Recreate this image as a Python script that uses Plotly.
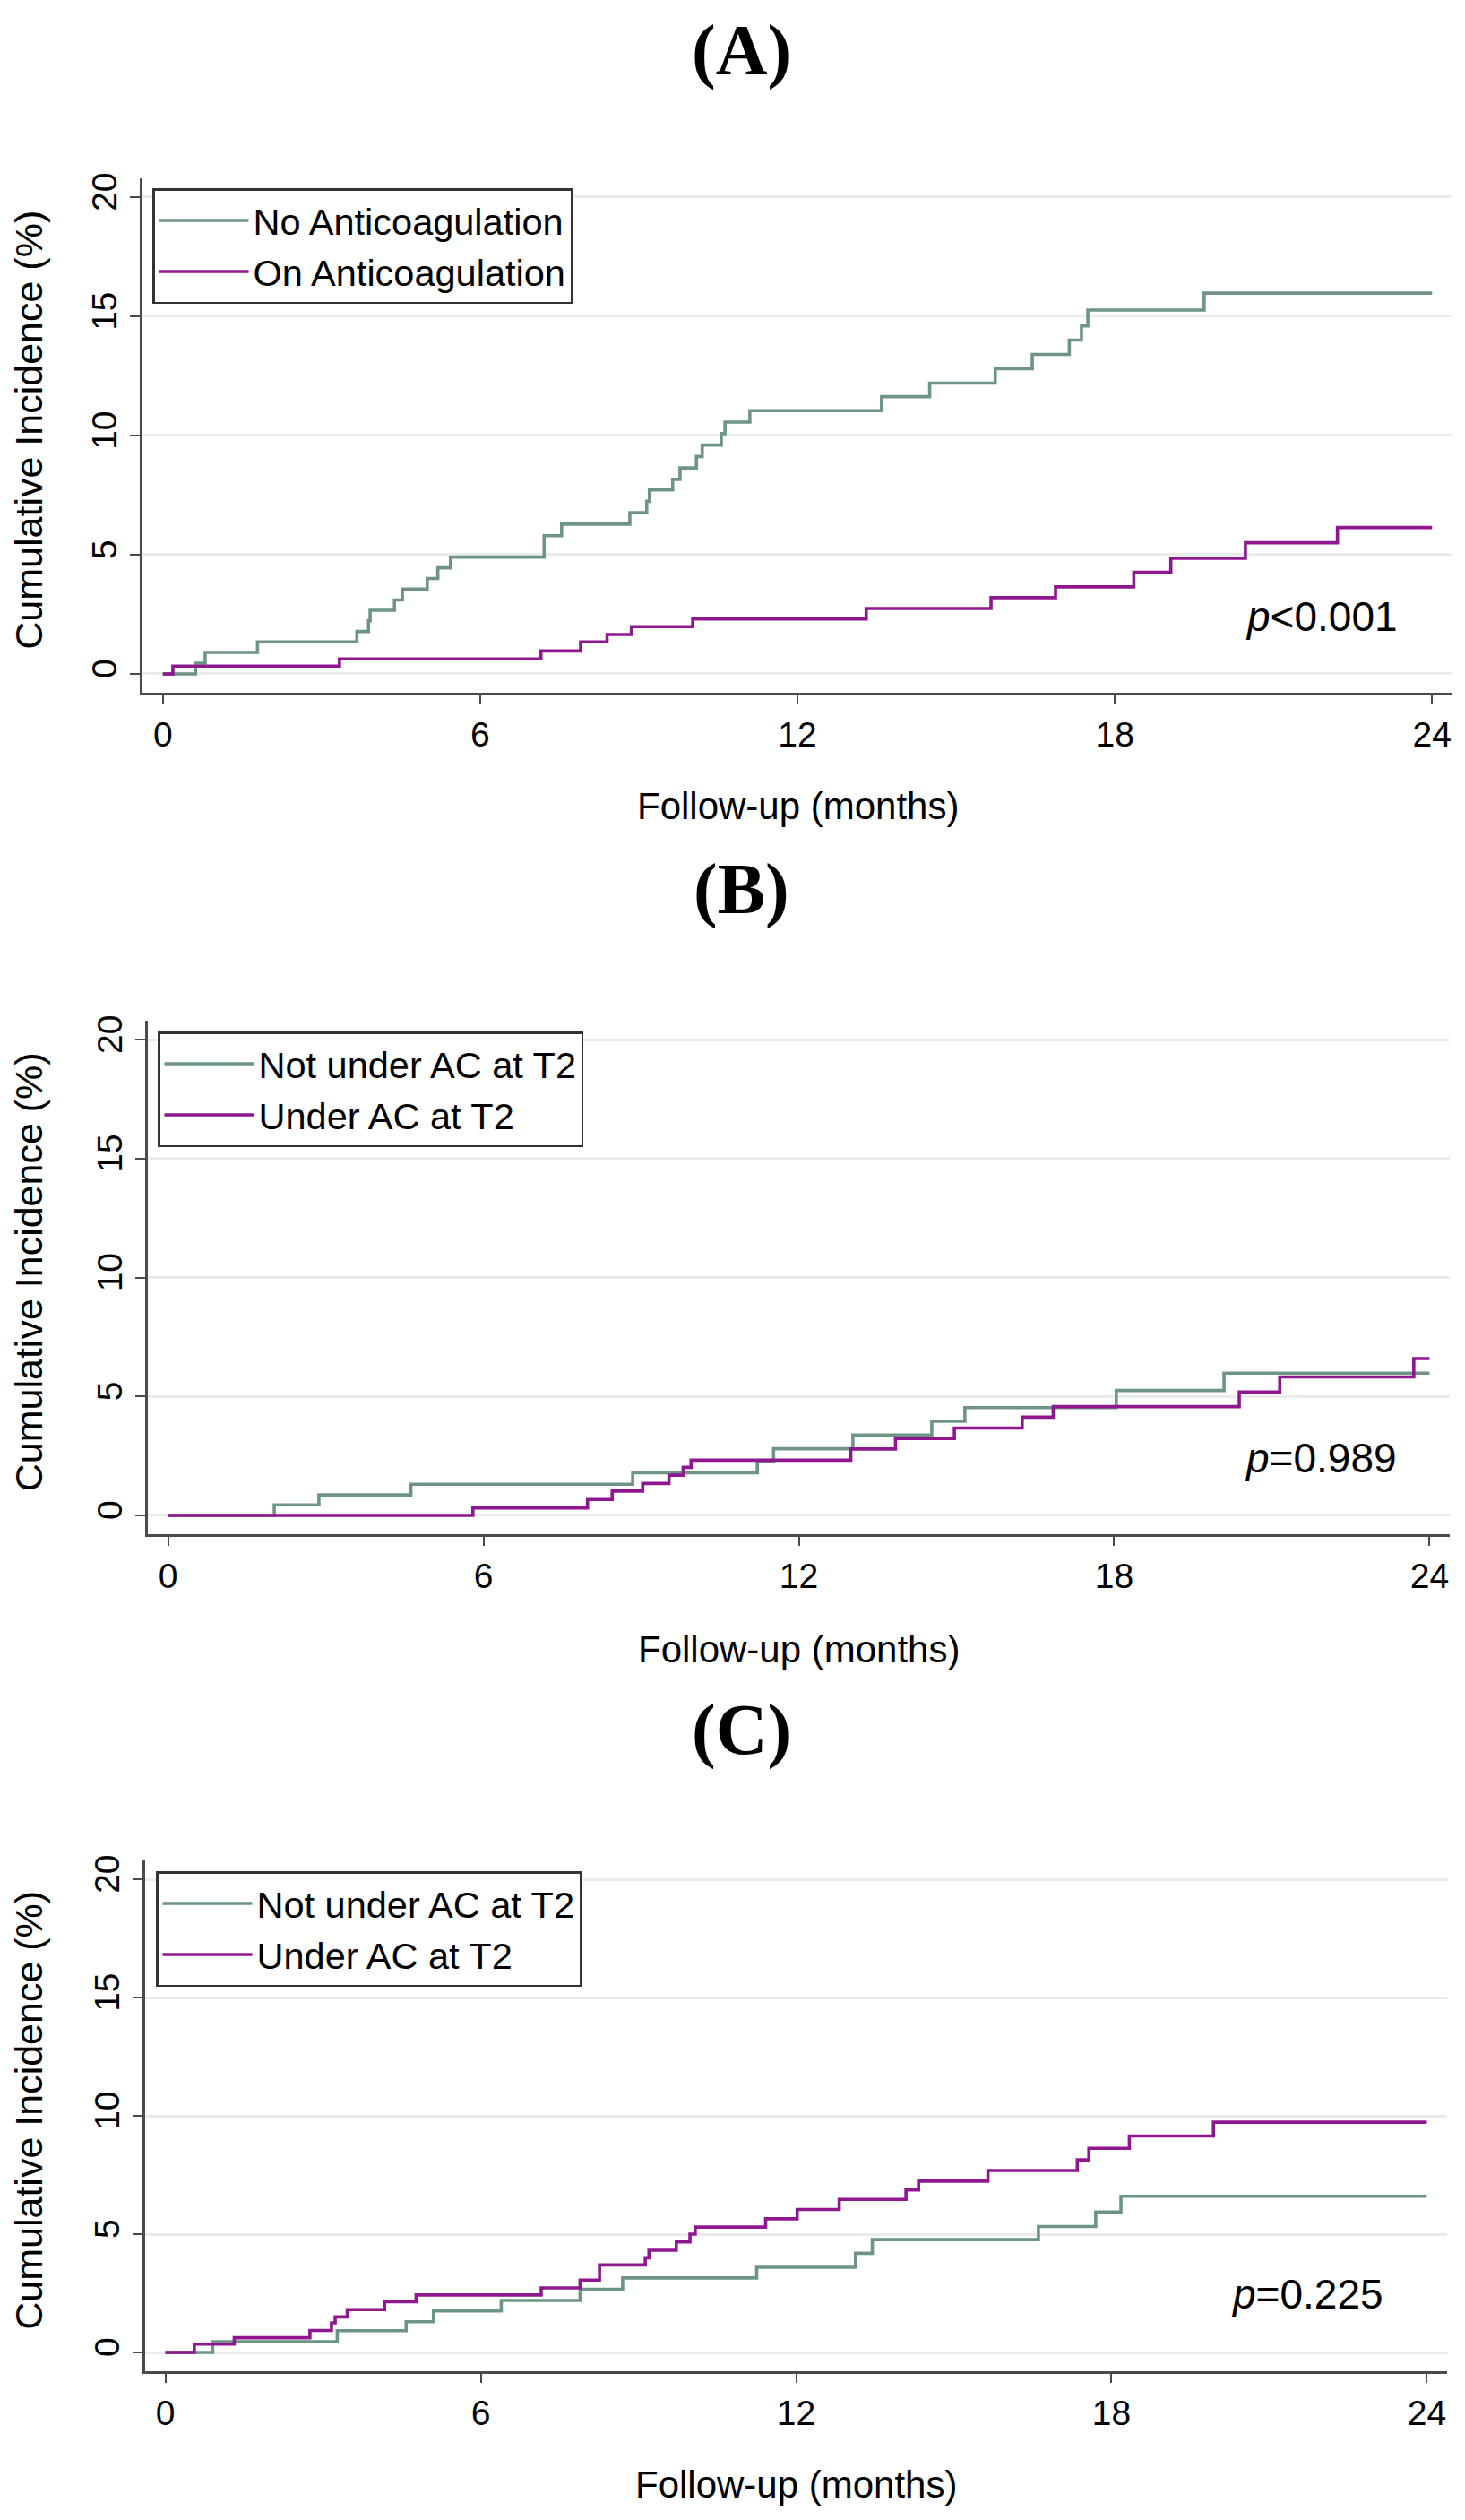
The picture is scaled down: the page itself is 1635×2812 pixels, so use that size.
import plotly.graph_objects as go

# ---------------- data ----------------
x_ticks = [0, 6, 12, 18, 24]
y_ticks = [0, 5, 10, 15, 20]

panel_titles = ["(A)", "(B)", "(C)"]
p_values = ["<i>p</i>&lt;0.001", "<i>p</i>=0.989", "<i>p</i>=0.225"]
p_pos_x = [20.43, 20.44, 20.25]
p_pos_y = [2.4, 2.4, 2.45]

A_names = ["No Anticoagulation", "On Anticoagulation"]
A_no_t = [0, 0.62, 0.80, 1.79, 3.67, 3.89, 3.92, 4.38, 4.53, 5.0, 5.2, 5.44, 7.21, 7.54,
          8.83, 9.15, 9.2, 9.64, 9.78, 10.09, 10.2, 10.56, 10.63, 11.1, 13.59, 14.5,
          15.74, 16.44, 17.14, 17.37, 17.49, 19.69, 24]
A_no_y = [0, 0.45, 0.9, 1.34, 1.78, 2.23, 2.67, 3.1, 3.56, 4.0, 4.45, 4.9, 5.8, 6.28,
          6.76, 7.24, 7.72, 8.16, 8.64, 9.12, 9.6, 10.08, 10.56, 11.04, 11.63, 12.2,
          12.8, 13.4, 14.0, 14.6, 15.26, 15.97, 15.97]
A_on_t = [0, 0.19, 3.34, 7.15, 7.9, 8.4, 8.86, 10.02, 13.3, 15.66, 16.88, 18.36, 19.06,
          20.47, 22.21, 24]
A_on_y = [0, 0.33, 0.63, 0.96, 1.34, 1.65, 1.98, 2.3, 2.74, 3.2, 3.65, 4.26, 4.85,
          5.5, 6.14, 6.14]

BC_names = ["Not under AC at T2", "Under AC at T2"]
B_not_t = [0, 2.02, 2.87, 4.62, 8.84, 11.21, 11.52, 13.03, 14.53, 15.16, 18.04, 20.09, 24]
B_not_y = [0, 0.44, 0.86, 1.31, 1.79, 2.27, 2.8, 3.38, 3.96, 4.53, 5.25, 5.98, 5.98]
B_under_t = [0, 5.8, 7.98, 8.45, 9.03, 9.53, 9.8, 9.95, 12.99, 13.84, 14.96, 16.25,
             16.84, 20.38, 21.15, 23.7, 24]
B_under_y = [0, 0.31, 0.67, 1.02, 1.34, 1.69, 2.02, 2.32, 2.79, 3.23, 3.67, 4.13,
             4.57, 5.19, 5.82, 6.59, 6.59]

C_not_t = [0, 0.9, 3.27, 4.58, 5.1, 6.39, 7.89, 8.7, 11.25, 13.13, 13.45, 16.61, 17.7,
           18.18, 24]
C_not_y = [0, 0.45, 0.92, 1.3, 1.75, 2.2, 2.67, 3.15, 3.6, 4.19, 4.77, 5.32, 5.94,
           6.6, 6.6]
C_under_t = [0, 0.55, 1.31, 2.75, 3.16, 3.23, 3.46, 4.17, 4.77, 7.15, 7.89, 8.26, 9.13,
             9.2, 9.72, 9.98, 10.08, 11.42, 12.02, 12.82, 14.09, 14.33, 15.65, 17.35,
             17.57, 18.34, 19.94, 24]
C_under_y = [0, 0.35, 0.62, 0.93, 1.25, 1.5, 1.81, 2.14, 2.43, 2.73, 3.06, 3.7, 4.0,
             4.32, 4.67, 5.0, 5.3, 5.65, 6.04, 6.47, 6.87, 7.24, 7.69, 8.14, 8.63,
             9.15, 9.73, 9.73]

# ---------------- styling / layout ----------------
OFF = 8                      # browser body margin
W, H = 1635 - OFF, 2812 - 2 * OFF
GREEN = "#6E9485"
PURPLE = "#8E168E"
AXIS = "#4a4a4a"
GRID = "#ebebeb"
SANS = "Liberation Sans, Arial, sans-serif"
SERIF = "Liberation Serif, Times New Roman, serif"

X_RANGE = [-0.385, 24.385]
Y_RANGE = [-0.78, 20.8]


def px(xp):
    return (xp - OFF) / W


def py(yp):
    return 1 - (yp - OFF) / H


# page-pixel geometry of each panel (ty = top of the panel title box)
panels = [
    dict(xl=159, xr=1621, yt=198.7, yb=772.7, ty=10, xty=900, lx=170, ly=210),
    dict(xl=165, xr=1618, yt=1138.8, yb=1711.7, ty=946, xty=1840, lx=176, ly=1151),
    dict(xl=162, xr=1615, yt=2075.9, yb=2645.6, ty=1884, xty=2772, lx=174, ly=2088),
]

series = [
    [(A_no_t, A_no_y, A_names[0], GREEN), (A_on_t, A_on_y, A_names[1], PURPLE)],
    [(B_not_t, B_not_y, BC_names[0], GREEN), (B_under_t, B_under_y, BC_names[1], PURPLE)],
    [(C_not_t, C_not_y, BC_names[0], GREEN), (C_under_t, C_under_y, BC_names[1], PURPLE)],
]

fig = go.Figure()
layout = dict(
    width=W, height=H,
    margin=dict(l=0, r=0, t=0, b=0),
    paper_bgcolor="white", plot_bgcolor="white",
    font=dict(family=SANS, size=39, color="black"),
    showlegend=True,
)
annotations = []

for i, (pan, ser) in enumerate(zip(panels, series)):
    sfx = "" if i == 0 else str(i + 1)
    lg = "legend" if i == 0 else f"legend{i + 1}"
    for (t, y, name, col) in ser:
        fig.add_trace(go.Scatter(
            x=t, y=y, mode="lines", name=name,
            line=dict(color=col, width=3.6, shape="hv"),
            xaxis="x" + sfx, yaxis="y" + sfx, legend=lg,
        ))
    layout["xaxis" + sfx] = dict(
        domain=[px(pan["xl"]), px(pan["xr"])], anchor="y" + sfx,
        range=X_RANGE, tickmode="array", tickvals=x_ticks,
        ticks="outside", ticklen=11, tickwidth=2, tickcolor=AXIS,
        showline=True, linecolor=AXIS, linewidth=2.5,
        showgrid=False, zeroline=False, automargin=False,
        tickfont=dict(family=SANS, size=39, color="black"),
    )
    layout["yaxis" + sfx] = dict(
        domain=[py(pan["yb"]), py(pan["yt"])], anchor="x" + sfx,
        range=Y_RANGE, tickmode="array", tickvals=y_ticks,
        ticks="outside", ticklen=11, tickwidth=2, tickcolor=AXIS,
        showline=True, linecolor=AXIS, linewidth=2.5,
        showgrid=True, gridcolor=GRID, gridwidth=2.5, zeroline=False,
        tickangle=-90, automargin=False,
        tickfont=dict(family=SANS, size=39, color="black"),
    )
    layout[lg] = dict(
        x=px(pan["lx"]), y=py(pan["ly"]), xanchor="left", yanchor="top",
        bgcolor="white", bordercolor="#333333", borderwidth=2.5,
        font=dict(family=SANS, size=41.5, color="black"),
        itemwidth=100, tracegroupgap=0,
    )
    # panel title
    annotations.append(dict(
        text=f"<b>{panel_titles[i]}</b>", xref="paper", yref="paper",
        x=px(827), y=py(pan["ty"]), xanchor="center", yanchor="top",
        showarrow=False, font=dict(family=SERIF, size=80, color="black"),
    ))
    # x title
    annotations.append(dict(
        text="Follow-up (months)", xref="paper", yref="paper",
        x=px((pan["xl"] + pan["xr"]) / 2), y=py(pan["xty"]),
        xanchor="center", yanchor="middle", showarrow=False,
        font=dict(family=SANS, size=42, color="black"),
    ))
    # y title
    annotations.append(dict(
        text="Cumulative Incidence (%)", xref="paper", yref="paper",
        x=px(32), y=py((pan["yt"] + pan["yb"]) / 2 - 6),
        xanchor="center", yanchor="middle", textangle=-90, showarrow=False,
        font=dict(family=SANS, size=43, color="black"),
    ))
    # p value
    annotations.append(dict(
        text=p_values[i], xref="x" + sfx, yref="y" + sfx,
        x=p_pos_x[i], y=p_pos_y[i], xanchor="left", yanchor="middle",
        showarrow=False, font=dict(family=SANS, size=46, color="black"),
    ))

layout["annotations"] = annotations
fig.update_layout(**layout)
fig.write_html("out.html")
